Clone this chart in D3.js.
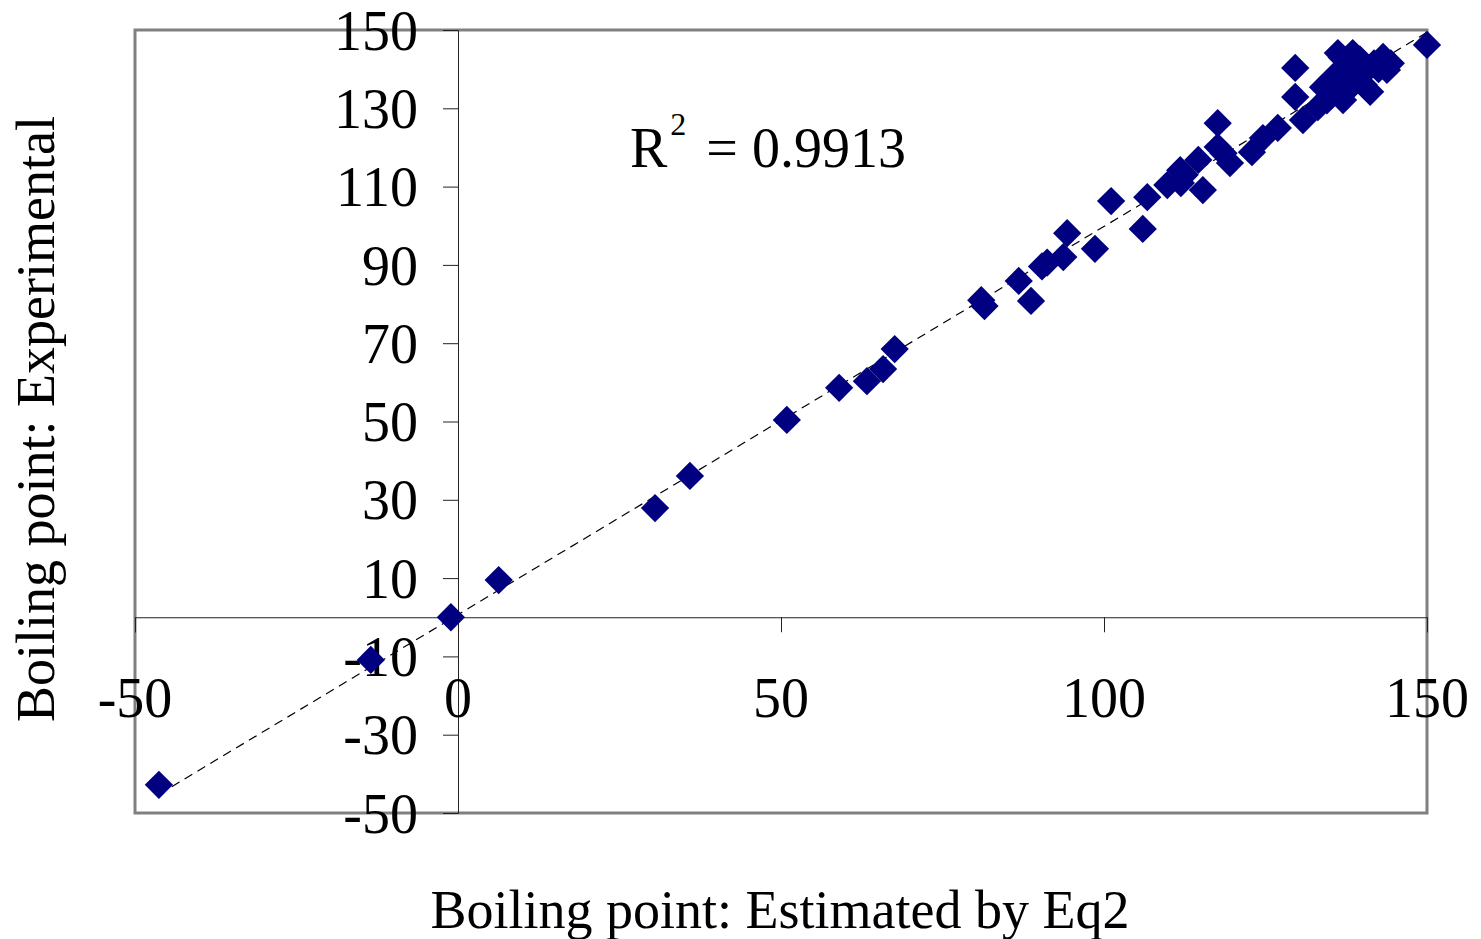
<!DOCTYPE html>
<html>
<head>
<meta charset="utf-8">
<script src="https://cdn.jsdelivr.net/npm/d3@7"></script>
<style>
body { margin: 0; background: #fff; }
text { font-family: "Liberation Serif", "Times New Roman", serif; fill: #000; }
</style>
</head>
<body>
<svg id="chart" width="1481" height="939"></svg>
<script>
var width = 1481, height = 939;

// estimated boiling point (x) vs experimental (y)
var estimated = [-46.3, -13.5, -1.1, 6.3, 30.5, 35.9, 50.9, 59.0, 63.3, 65.8, 67.6,
  81.0, 81.5, 86.8, 88.7, 90.4, 91.2, 93.7, 94.3, 98.6, 101.1, 106.0, 106.7,
  109.8, 111.9, 111.8, 115.3, 114.6, 112.5, 117.6, 117.6, 119.5, 118.5, 122.9, 124.6, 126.9,
  129.6, 129.6, 130.8, 133.1, 133.9, 134.5, 135.3, 136.1, 136.2, 137.0, 137.5, 138.5,
  139.0, 139.6, 140.2, 140.7, 141.2, 141.8, 142.5, 143.2, 143.8, 144.4, 136.8, 138.2, 135.0, 150.0];
var experimental = [-42.8, -10.9, 0.0, 9.5, 27.9, 36.1, 50.4, 58.6, 60.3, 63.4, 68.5,
  81.0, 79.5, 85.9, 80.8, 89.6, 90.6, 92.0, 98.1, 94.1, 106.3, 99.2, 107.3,
  110.4, 110.9, 114.2, 109.1, 116.8, 113.0, 126.2, 120.1, 116.0, 118.5, 118.8, 122.4, 125.0,
  140.3, 132.9, 127.0, 130.3, 135.4, 132.0, 137.5, 139.0, 144.1, 132.1, 141.0, 144.1,
  137.0, 142.5, 136.0, 139.8, 134.2, 141.5, 140.0, 143.1, 139.8, 141.5, 143.0, 135.5, 134.0, 146.2];

var xTicks = [-50, 0, 50, 100, 150];
var yTicks = [-50, -30, -10, 10, 30, 50, 70, 90, 110, 130, 150];
var r2Label = "0.9913";

var mLeft = 135, mRight = 1427, mTop = 30, mBottom = 813;

var x = d3.scaleLinear().domain([-50, 150]).range([mLeft, mRight]);
var y = d3.scaleLinear().domain([-50, 150]).range([mBottom, mTop]);

var svg = d3.select("#chart");

// plot area border
svg.append("rect")
  .attr("x", mLeft).attr("y", mTop)
  .attr("width", mRight - mLeft).attr("height", mBottom - mTop)
  .attr("fill", "none")
  .attr("stroke", "#808080")
  .attr("stroke-width", 3);

// y axis sits at x = 0
var yAxis = d3.axisLeft(y).tickValues(yTicks).tickSize(15).tickFormat("");
svg.append("g")
  .attr("transform", "translate(" + x(0) + ",0)")
  .call(yAxis)
  .call(function(g) {
    g.select(".domain").attr("stroke", "#222");
    g.selectAll(".tick line").attr("stroke", "#222");
  });

// y tick labels
svg.append("g").selectAll("text")
  .data(yTicks)
  .join("text")
  .attr("x", x(0) - 40)
  .attr("y", function(d) { return y(d); })
  .attr("dy", "0.35em")
  .attr("text-anchor", "end")
  .style("font-size", "56px")
  .text(function(d) { return d; });

// x axis sits at y = 0
var xAxis = d3.axisBottom(x).tickValues(xTicks).tickSize(15).tickFormat("");
svg.append("g")
  .attr("transform", "translate(0," + y(0) + ")")
  .call(xAxis)
  .call(function(g) {
    g.select(".domain").attr("stroke", "#222");
    g.selectAll(".tick line").attr("stroke", "#222");
  });

// x tick labels
svg.append("g").selectAll("text")
  .data(xTicks)
  .join("text")
  .attr("x", function(d) { return x(d); })
  .attr("y", 717)
  .attr("text-anchor", "middle")
  .style("font-size", "56px")
  .text(function(d) { return d; });

// linear trendline from the data
var n = estimated.length;
var mx = d3.mean(estimated), my = d3.mean(experimental);
var sxy = 0, sxx = 0;
for (var i = 0; i < n; i++) {
  sxy += (estimated[i] - mx) * (experimental[i] - my);
  sxx += (estimated[i] - mx) * (estimated[i] - mx);
}
var slope = sxy / sxx, icept = my - slope * mx;
var x0 = d3.min(estimated), x1 = d3.max(estimated);
svg.append("line")
  .attr("x1", x(x0)).attr("y1", y(slope * x0 + icept))
  .attr("x2", x(x1)).attr("y2", y(slope * x1 + icept))
  .attr("stroke", "#000")
  .attr("stroke-width", 1.2)
  .attr("stroke-dasharray", "9,6");

// diamonds
var diamond = d3.symbol().type(d3.symbolSquare).size(400);
svg.append("g").selectAll("path")
  .data(d3.range(n))
  .join("path")
  .attr("d", diamond)
  .attr("transform", function(i) {
    return "translate(" + x(estimated[i]) + "," + y(experimental[i]) + ") rotate(45)";
  })
  .attr("fill", "#000080");

// R squared note
var r2 = svg.append("text")
  .attr("x", 630).attr("y", 167)
  .style("font-size", "56px");
r2.append("tspan").text("R");
r2.append("tspan").attr("dx", 3).attr("dy", -32).style("font-size", "32px").text("2");
r2.append("tspan").attr("dx", 6).attr("dy", 32).text(" = " + r2Label);

// axis titles
svg.append("text")
  .attr("x", 780).attr("y", 928)
  .attr("text-anchor", "middle")
  .style("font-size", "54px")
  .text("Boiling point: Estimated by Eq2");

svg.append("text")
  .attr("transform", "translate(54,419) rotate(-90)")
  .attr("text-anchor", "middle")
  .style("font-size", "54px")
  .text("Boiling point: Experimental");
</script>
</body>
</html>
